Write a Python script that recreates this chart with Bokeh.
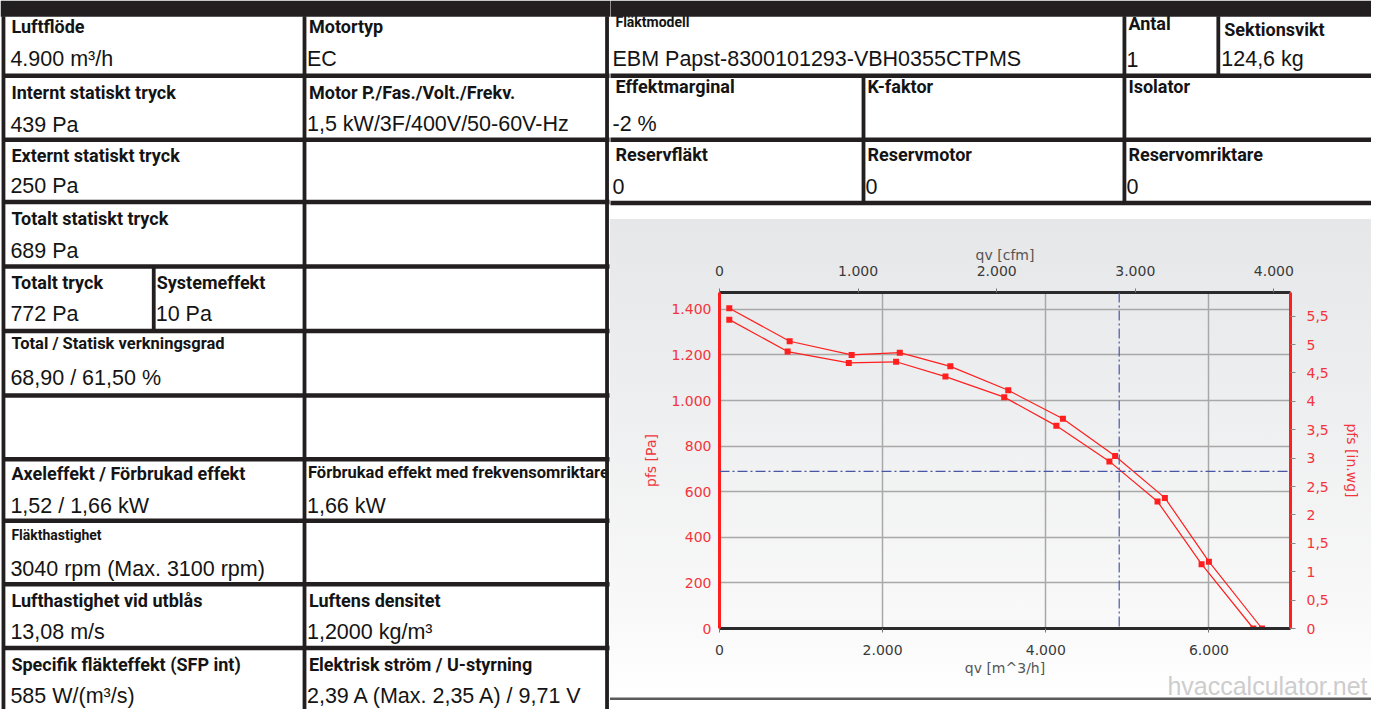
from bokeh.plotting import figure
from bokeh.models import (Range1d, LinearAxis, FixedTicker, CustomJSTickFormatter,
                          Span, Title)
from bokeh.layouts import row, column
from bokeh.embed import file_html
from bokeh.resources import INLINE
from bokeh.core.properties import value

# ---------------- chart data ----------------
qv_upper = [120, 860, 1620, 2210, 2830, 3540, 4210, 4850, 5460, 6000, 6650]
pfs_upper = [1405, 1260, 1200, 1210, 1150, 1045, 920, 757, 573, 293, 0]
qv_lower = [120, 835, 1585, 2165, 2770, 3490, 4130, 4780, 5370, 5910, 6545]
pfs_lower = [1355, 1215, 1165, 1170, 1105, 1015, 889, 733, 557, 282, 0]
operating_qv = 4900      # m3/h
operating_pfs = 689      # Pa

qv_ticks = [0, 2000, 4000, 6000]
cfm_ticks = [0, 1000, 2000, 3000, 4000]
pa_ticks = [0, 200, 400, 600, 800, 1000, 1200, 1400]
inwg_ticks = [0, 0.5, 1, 1.5, 2, 2.5, 3, 3.5, 4, 4.5, 5, 5.5]
QV_MAX = 7000
PA_MAX = 1474
M3H_PER_CFM = 1.69901
PA_PER_INWG = 249.0889

# ---------------- table text ----------------
left_headers = ["Luftflöde", "Motortyp", "Internt statiskt tryck", "Motor P./Fas./Volt./Frekv.",
                "Externt statiskt tryck", "Totalt statiskt tryck", "Totalt tryck", "Systemeffekt",
                "Axeleffekt / Förbrukad effekt", "Lufthastighet vid utblås", "Luftens densitet",
                "Specifik fläkteffekt (SFP int)", "Elektrisk ström / U-styrning"]
left_mid_headers = ["Total / Statisk verkningsgrad", "Förbrukad effekt med frekvensomriktare"]
left_small_headers = ["Fläkthastighet"]
left_values = ["4.900 m³/h", "EC", "439 Pa", "1,5 kW/3F/400V/50-60V-Hz", "250 Pa", "689 Pa",
               "772 Pa", "10 Pa", "68,90 / 61,50 %", "1,52 / 1,66 kW", "1,66 kW",
               "3040 rpm (Max. 3100 rpm)", "13,08 m/s", "1,2000 kg/m³", "585 W/(m³/s)",
               "2,39 A (Max. 2,35 A) / 9,71 V"]
right_headers = ["Antal", "Sektionsvikt", "Effektmarginal", "K-faktor", "Isolator",
                 "Reservfläkt", "Reservmotor", "Reservomriktare"]
right_small_headers = ["Fläktmodell"]
right_values = ["EBM Papst-8300101293-VBH0355CTPMS", "1", "124,6 kg", "-2 %", "0", "0", "0"]
watermark = "hvaccalculator.net"

# ---------------- layout (reference pixel positions) ----------------
REF_W, REF_H = 1387, 725
OUT_W, OUT_H = 1371, 709
SPLIT_X, SPLIT_Y = 617, 224

left_header_x = [11, 312, 11, 312, 11, 11, 11, 158, 11, 11, 312, 11, 312]
left_header_y = [27, 27, 94, 94, 158, 223, 288, 288, 484, 614, 614, 679, 679]
left_mid_x = [11, 311]
left_mid_y = [351, 483]
left_small_x = [11]
left_small_y = [547]
left_value_x = [10, 310, 10, 310, 10, 10, 10, 157, 10, 10, 310, 10, 10, 310, 10, 310]
left_value_y = [60, 60, 127, 126, 190, 256, 321, 321, 386, 517, 517, 581, 646, 646, 711, 711]
right_header_x = [1141, 1238, 622, 877, 1141, 622, 877, 1141]
right_header_y = [24, 30, 88, 88, 88, 158, 158, 158]
right_small_x = [622]
right_small_y = [22]
right_value_x = [619, 1139, 1235, 619, 619, 875, 1139]
right_value_y = [60, 60, 60, 126, 190, 190, 190]

LINE = "#231f20"
HEAD_FONT = value("Roboto")
VAL_FONT = value("Liberation Sans")

sx = OUT_W / REF_W
sy = OUT_H / REF_H
tl_w = round(SPLIT_X * sx)
r_w = OUT_W - tl_w
tr_h = round(SPLIT_Y * sy)
ch_h = OUT_H - tr_h


def table_fig(w, h, x0, x1, y0, y1):
    f = figure(width=w, height=h, x_range=Range1d(x0, x1), y_range=Range1d(y1, y0),
               x_axis_type=None, y_axis_type=None, output_backend="svg",
               toolbar_location=None, min_border=0)
    f.outline_line_color = None
    f.background_fill_color = "white"
    f.border_fill_color = "white"
    return f


def put_text(f, xs, ys, texts, font, size, style):
    f.text(x=xs, y=ys, text=texts, text_font=font, text_font_size=size,
           text_font_style=style, text_color="#141414", text_baseline="middle",
           text_align="left")


# ---- left table ----
tl = table_fig(tl_w, OUT_H, 0, SPLIT_X, 0, REF_H)
put_text(tl, left_header_x, left_header_y, left_headers, HEAD_FONT, "18px", "bold")
put_text(tl, left_mid_x, left_mid_y, left_mid_headers, HEAD_FONT, "16.5px", "bold")
put_text(tl, left_small_x, left_small_y, left_small_headers, HEAD_FONT, "14px", "bold")
put_text(tl, left_value_x, left_value_y, left_values, VAL_FONT, "21.5px", "normal")
tl.quad(left=0, right=SPLIT_X, top=0, bottom=16.5, fill_color=LINE, line_color=None)
hy = [77, 142.5, 206, 272, 338, 404, 469, 532, 597, 662]
tl.segment(x0=[2] * len(hy), x1=[616] * len(hy), y0=hy, y1=hy, line_color=LINE, line_width=4.5)
tl.segment(x0=[307.5, 613.5, 155, 3], x1=[307.5, 613.5, 155, 3],
           y0=[16, 16, 272, 16], y1=[730, 730, 338, 730], line_color=LINE, line_width=3.8)

# ---- right top table ----
tr = table_fig(r_w, tr_h, SPLIT_X, REF_W, 0, SPLIT_Y)
put_text(tr, right_header_x, right_header_y, right_headers, HEAD_FONT, "18px", "bold")
put_text(tr, right_small_x, right_small_y, right_small_headers, HEAD_FONT, "14px", "bold")
put_text(tr, right_value_x, right_value_y, right_values, VAL_FONT, "21.5px", "normal")
tr.quad(left=600, right=1400, top=0, bottom=16.5, fill_color=LINE, line_color=None)
ry = [77, 142.5, 207]
tr.segment(x0=[610] * 3, x1=[1395] * 3, y0=ry, y1=ry, line_color=LINE, line_width=4.5)
tr.segment(x0=[613.5, 1137, 1232, 873], x1=[613.5, 1137, 1232, 873],
           y0=[16, 16, 16, 77], y1=[209, 209, 77, 209], line_color=LINE, line_width=3.8)

# ---- chart ----
RED = "#ff1f1f"
RED_TXT = "#f2353d"
GREY_TXT = "#3a3a3a"
TICK_FONT = "DejaVu Sans"

b_left = round((727 - SPLIT_X) * sx)
b_right = round((REF_W - 1305) * sx)
b_top = round((299 - SPLIT_Y) * sy)
b_bottom = ch_h - b_top - round((643 - 299) * sy)
line_px = round((715 - SPLIT_Y) * sy)

ch = figure(width=r_w, height=ch_h, x_range=Range1d(0, QV_MAX), y_range=Range1d(0, PA_MAX),
            output_backend="svg", toolbar_location=None,
            min_border_left=b_left, min_border_right=b_right,
            min_border_top=b_top, min_border_bottom=b_bottom)
ch.extra_x_ranges = {"cfm": Range1d(0, QV_MAX / M3H_PER_CFM)}
ch.extra_y_ranges = {"inwg": Range1d(0, PA_MAX / PA_PER_INWG)}
ch.outline_line_color = None
ch.background_fill_color = None
ch.border_fill_color = None
ch.styles = {"background": (
    "linear-gradient(to bottom, #e6e7e8 0px, #edeeef 170px, #f9f9f9 400px, "
    f"#ffffff {line_px - 2}px, #5a5a5a {line_px - 1}px, #5a5a5a {line_px + 1}px, "
    f"#ffffff {line_px + 1}px)")}

thousands = CustomJSTickFormatter(
    code="return tick.toFixed(0).replace(/\\B(?=(\\d{3})+(?!\\d))/g, '.');")
decimal_comma = CustomJSTickFormatter(
    code="return (Math.round(tick*10)/10).toString().replace('.', ',');")

ch.xgrid.ticker = FixedTicker(ticks=qv_ticks[1:])
ch.ygrid.ticker = FixedTicker(ticks=pa_ticks)
for g in (ch.xgrid, ch.ygrid):
    g.grid_line_color = "#a8a8a8"
    g.grid_line_width = 1.5

xb = ch.xaxis[0]
xb.ticker = FixedTicker(ticks=qv_ticks)
xb.formatter = thousands
xb.axis_label = "qv [m^3/h]"

yl = ch.yaxis[0]
yl.ticker = FixedTicker(ticks=pa_ticks)
yl.formatter = thousands
yl.axis_label = "pfs [Pa]"

xt = LinearAxis(x_range_name="cfm", ticker=FixedTicker(ticks=cfm_ticks), formatter=thousands,
                axis_label="qv [cfm]")
ch.add_layout(xt, "above")
yr = LinearAxis(y_range_name="inwg", ticker=FixedTicker(ticks=inwg_ticks),
                formatter=decimal_comma, axis_label="pfs [in.wg]")
ch.add_layout(yr, "right")

for ax in (xb, xt, yl, yr):
    ax.major_label_text_font = TICK_FONT
    ax.major_label_text_font_size = "14px"
    ax.axis_label_text_font = TICK_FONT
    ax.axis_label_text_font_size = "14px"
    ax.axis_label_text_font_style = "normal"
    ax.minor_tick_line_color = None
    ax.axis_line_width = 3
    ax.major_tick_in = 0

for ax in (xb, xt):
    ax.axis_line_color = "#2b2b2b"
    ax.major_label_text_color = GREY_TXT
    ax.axis_label_text_color = "#555555"
    ax.major_tick_line_color = "#777777"
    ax.major_tick_out = 4
    ax.major_label_standoff = 13
xb.major_label_standoff = 12
xb.axis_label_standoff = 2
xt.axis_label_standoff = 0

for ax in (yl, yr):
    ax.axis_line_color = RED
    ax.major_label_text_color = RED_TXT
    ax.axis_label_text_color = RED_TXT
yl.major_tick_line_color = None
yl.major_tick_out = 0
yl.major_label_standoff = 8
yl.axis_label_standoff = 9
yr.major_tick_line_color = "#888888"
yr.major_tick_out = 5
yr.major_label_standoff = 11
yr.axis_label_standoff = 12

op_color = "#4b55a8"
ch.add_layout(Span(location=operating_qv, dimension="height", line_color=op_color,
                   line_width=1.2, line_dash="10 3 2 3"))
ch.add_layout(Span(location=operating_pfs, dimension="width", line_color=op_color,
                   line_width=1.2, line_dash="10 3 2 3"))

ch.line(qv_upper, pfs_upper, line_color=RED, line_width=1.2)
ch.line(qv_lower, pfs_lower, line_color=RED, line_width=1.2)
ch.scatter(qv_upper, pfs_upper, marker="square", size=6, fill_color=RED, line_color=None)
ch.scatter(qv_lower, pfs_lower, marker="square", size=6, fill_color=RED, line_color=None)

ch.add_layout(Title(text=watermark, align="right", offset=-77, standoff=-17,
                    text_font="Liberation Sans", text_font_size="25px",
                    text_font_style="normal", text_color="#cdcdcd"), "below")

layout = row(tl, column(column(tr), column(ch)))
open("out.html", "w").write(file_html(layout, INLINE))
